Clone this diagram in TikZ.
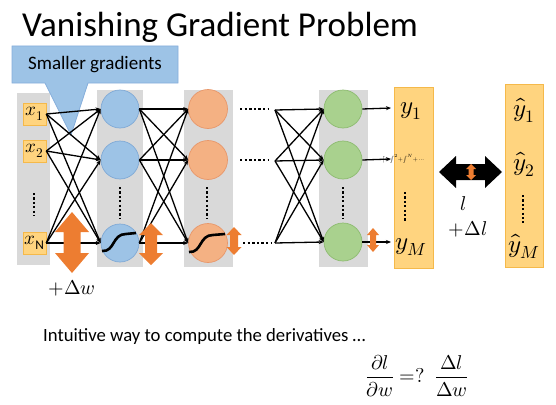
\documentclass[tikz,border=0pt]{standalone}
\usepackage{fontspec}
\usepackage{unicode-math}
\setmainfont{Carlito}
\setmathfont{Latin Modern Math}
\usetikzlibrary{arrows.meta}
\definecolor{colgray}{HTML}{D9D9D9}
\definecolor{bluefill}{HTML}{9DC3E6}
\definecolor{blueline}{HTML}{7FA9D6}
\definecolor{orfill}{HTML}{F4B183}
\definecolor{orline}{HTML}{E8976A}
\definecolor{grfill}{HTML}{A9D18E}
\definecolor{grline}{HTML}{8DBB70}
\definecolor{yelfill}{HTML}{FFD47F}
\definecolor{yelline}{HTML}{F5B94A}
\definecolor{arrorange}{HTML}{ED7D31}
\definecolor{callfill}{HTML}{9DC3E6}
\definecolor{callline}{HTML}{86AEDB}
\newcommand\vdarrow[7]{% colour, cx, cy, half height, head half width, shaft half width, head length
  \fill[#1] ({#2},{#3-#4}) -- ({#2+#5},{#3-#4+#7}) -- ({#2+#6},{#3-#4+#7}) -- ({#2+#6},{#3+#4-#7}) -- ({#2+#5},{#3+#4-#7}) -- ({#2},{#3+#4}) -- ({#2-#5},{#3+#4-#7}) -- ({#2-#6},{#3+#4-#7}) -- ({#2-#6},{#3-#4+#7}) -- ({#2-#5},{#3-#4+#7}) -- cycle;}
\newcommand\hdarrow[7]{% colour, cx, cy, half length, head half height, shaft half height, head length
  \fill[#1] ({#2-#4},{#3}) -- ({#2-#4+#7},{#3-#5}) -- ({#2-#4+#7},{#3-#6}) -- ({#2+#4-#7},{#3-#6}) -- ({#2+#4-#7},{#3-#5}) -- ({#2+#4},{#3}) -- ({#2+#4-#7},{#3+#5}) -- ({#2+#4-#7},{#3+#6}) -- ({#2-#4+#7},{#3+#6}) -- ({#2-#4+#7},{#3+#5}) -- cycle;}
\tikzset{
  column/.style={fill=colgray, draw=none},
  inbox/.style={rectangle, fill=yelfill, draw=yelline, line width=0.6pt, minimum width=23pt, minimum height=22pt, inner sep=0pt, font=\fontsize{19}{19}\selectfont},
  bluen/.style={circle, fill=bluefill, draw=blueline, line width=0.7pt, minimum size=38pt, inner sep=0pt},
  orn/.style={circle, fill=orfill, draw=orline, line width=0.7pt, minimum size=39pt, inner sep=0pt},
  grn/.style={circle, fill=grfill, draw=grline, line width=0.7pt, minimum size=38pt, inner sep=0pt},
  conn/.style={black, line width=1.3pt, -{Stealth[length=5pt,width=4pt]}},
  vdots/.style={black, line width=2.2pt, dash pattern=on 2.2pt off 2.2pt},
  hdots/.style={black, line width=2.4pt, dash pattern=on 2.4pt off 2.2pt},
  sig/.style={black, line width=2.6pt},
  outtxt/.style={inner sep=0pt, font=\fontsize{25}{25}\selectfont},
  ycol/.style={fill=yelfill, draw=yelline, line width=0.8pt},
}
\begin{document}
\begin{tikzpicture}[x=1pt,y=-1pt]
\useasboundingbox (0,0) rectangle (556,404);
% title
\node[anchor=base west, inner sep=0pt, font=\fontsize{35}{35}\selectfont] (title) at (22,37) {Vanishing Gradient Problem};
% columns
\fill[column] (17,93) rectangle (50,265);
\fill[column] (97,90) rectangle (143,267);
\fill[column] (184,90) rectangle (233,267);
\fill[column] (319,90) rectangle (368,267);
% callout
\filldraw[fill=callfill, draw=callline, line width=0.8pt] (12,46) -- (178,46) -- (178,83) -- (88,83) -- (71,135) -- (45,83) -- (12,83) -- cycle;
\node[inner sep=0pt, font=\fontsize{19}{19}\selectfont] (call) at (95,65) {Smaller gradients};
% input nodes
\node[inbox] (x1) at (34.5,114) {$x_1$};
\node[inbox] (x2) at (34.5,151) {$x_2$};
\node[inbox] (xN) at (34.5,243) {$x_{\mathrm{N}}$};
\draw[vdots] (34,193) -- (34,216);
% blue layer
\node[bluen] (b1) at (120,109) {};
\node[bluen] (b2) at (120,160) {};
\node[bluen] (b3) at (120,243) {};
\draw[vdots] (120,187) -- (120,218);
% orange layer
\node[orn] (o1) at (208,109) {};
\node[orn] (o2) at (208,160) {};
\node[orn] (o3) at (208,243) {};
\draw[vdots] (207,187) -- (207,218);
% green layer
\node[grn] (g1) at (343,109) {};
\node[grn] (g2) at (343,160) {};
\node[grn] (g3) at (343,242) {};
\draw[vdots] (343,187) -- (343,218);
% sigmoids
\draw[sig] (102,251) .. controls (115,252) and (112,234) .. (126,234) -- (136,233);
\draw[sig] (189,252) .. controls (202,253) and (199,235) .. (213,235) -- (225,234);
% connections input -> blue
\foreach \s in {x1,x2,xN}{
  \foreach \t in {b1,b2,b3}{
    \draw[conn] (\s.east) -- (\t.west);
  }
}
% blue -> orange
\foreach \s in {b1,b2,b3}{
  \foreach \t in {o1,o2,o3}{
    \draw[conn] (\s.east) -- (\t.west);
  }
}
% dotted continuations
\coordinate (e1) at (240,109); \coordinate (f1) at (268,109);
\coordinate (e2) at (240,160); \coordinate (f2) at (268,160);
\coordinate (e3) at (243,243); \coordinate (f3) at (271,243);
\draw[hdots] (e1) -- (f1);
\draw[hdots] (e2) -- (f2);
\draw[hdots] (e3) -- (f3);
\coordinate (d1) at (275,110);
\coordinate (d2) at (275,161);
\coordinate (d3) at (275,243);
\foreach \s in {d1,d2,d3}{
  \foreach \t in {g1,g2,g3}{
    \draw[conn] (\s) -- (\t.west);
  }
}
% output column
\draw[ycol] (394,87) rectangle (433,268);
\coordinate (t1) at (391,108);
\coordinate (t2) at (391,159);
\coordinate (t3) at (391,242);
\draw[conn] (g1.east) -- (t1);
\draw[conn] (g2.east) -- (t2);
\draw[conn] (g3.east) -- (t3);
\node[outtxt] (y1) at (411,111) {$y_1$};
\node[inner sep=0pt, font=\fontsize{6.5}{6.5}\selectfont] (y2) at (403,159) {$\lceil{=}\!\int^{2}\!{+}\!\int^{N}\!{+}\cdots$};
\draw[vdots] (405,192) -- (405,221);
\node[outtxt] (yM) at (411,247) {$y_M$};
% target column
\draw[ycol] (505,84) rectangle (543,267);
\node[outtxt] (h1) at (524,110) {$\hat{y}_1$};
\node[outtxt] (h2) at (524,164) {$\hat{y}_2$};
\draw[vdots] (523,195) -- (523,223);
\node[outtxt] (hM) at (524,246) {$\hat{y}_M$};
% loss arrow
\hdarrow{black}{470.5}{172}{31.5}{16}{8}{17}
\vdarrow{arrorange}{471}{172}{8}{5}{2.5}{5}
\node[inner sep=0pt, font=\fontsize{20}{20}\selectfont] (l) at (463,204) {$l$};
\node[inner sep=0pt, font=\fontsize{20}{20}\selectfont] (dl) at (468,229) {$+\Delta l$};
% orange arrows
\vdarrow{arrorange}{72}{242.5}{30.5}{17}{8.5}{20}
\vdarrow{arrorange}{151}{244}{21}{12}{6}{12}
\vdarrow{arrorange}{234}{241}{14}{7.5}{4}{8}
\vdarrow{arrorange}{373}{240}{12}{6}{3}{7}
\node[inner sep=0pt, font=\fontsize{20}{20}\selectfont] (dw) at (72,288) {$+\Delta w$};
% bottom text
\node[anchor=base west, inner sep=0pt, font=\fontsize{18.7}{18.7}\selectfont] (intu) at (43,341) {Intuitive way to compute the derivatives \dots};
\node[inner sep=0pt, font=\fontsize{20}{20}\selectfont] (frac) at (417,376) {$\displaystyle\frac{\partial l}{\partial w}\mkern5mu{=}?\mkern9mu\frac{\Delta l}{\Delta w}$};
\end{tikzpicture}
\end{document}
